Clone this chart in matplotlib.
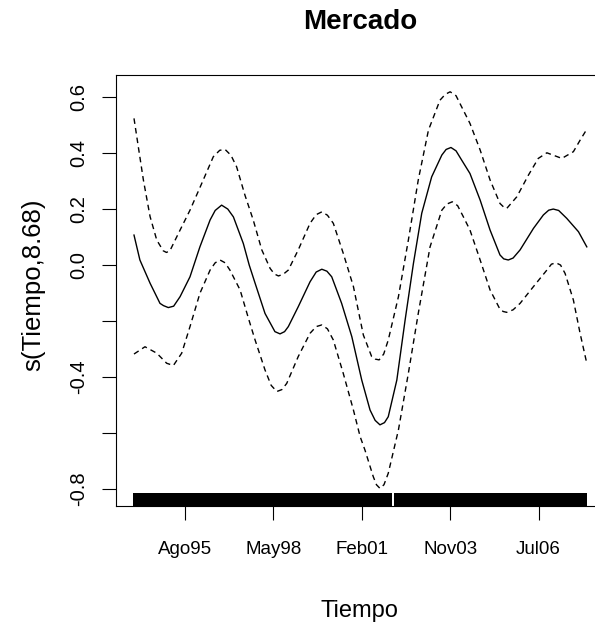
import matplotlib
matplotlib.use("Agg")
import matplotlib.pyplot as plt

plt.rcParams['font.family'] = ['Liberation Sans', 'DejaVu Sans']

# ---- data ----
title = "Mercado"
x_label = "Tiempo"
y_label = "s(Tiempo,8.68)"

x_tick_pos = [20, 53, 86, 119, 152]
x_tick_labels = ["Ago95", "May98", "Feb01", "Nov03", "Jul06"]
y_tick_pos = [-0.8, -0.6, -0.4, -0.2, 0.0, 0.2, 0.4, 0.6]
y_tick_labels = ["-0.8", "", "-0.4", "", "0.0", "0.2", "0.4", "0.6"]

fit_x = [1, 3.2, 7.0, 10.7, 12.0, 13.8, 15.8, 18.2, 21.9, 25.6, 29.4, 31.3, 33.7,
         36.0, 38.1, 41.8, 44.0, 46.2, 49.9, 53.6, 55.5, 57.2, 58.6, 62.3, 66.7,
         69.0, 71.1, 73.0, 74.8, 78.5, 82.3, 86.0, 89.1, 91.0, 92.8, 94.5, 95.9,
         99.1, 102.2, 105.3, 108.4, 112.1, 115.9, 117.5, 119.3, 121.2, 123.3,
         126.4, 130.2, 133.9, 137.6, 139.0, 140.7, 142.5, 145.1, 150.1, 153.8,
         155.8, 157.5, 159.5, 162.5, 166.9, 170]
fit_y = [0.107, 0.018, -0.065, -0.137, -0.145, -0.152, -0.147, -0.113, -0.042,
         0.065, 0.161, 0.195, 0.214, 0.200, 0.172, 0.077, 0.000, -0.065, -0.173,
         -0.238, -0.246, -0.238, -0.220, -0.149, -0.060, -0.025, -0.015, -0.022,
         -0.042, -0.137, -0.256, -0.411, -0.518, -0.555, -0.571, -0.563, -0.542,
         -0.411, -0.196, 0.006, 0.185, 0.315, 0.393, 0.413, 0.420, 0.408, 0.375,
         0.327, 0.232, 0.125, 0.036, 0.022, 0.018, 0.025, 0.054, 0.131, 0.179,
         0.196, 0.200, 0.195, 0.167, 0.119, 0.065]

upper_x = [1, 2.6, 4.5, 7.0, 9.5, 11.9, 13.1, 14.4, 18.2, 21.9, 26.3, 30.6, 33.0,
           35.0, 37.2, 39.3, 42.4, 45.5, 48.7, 51.8, 53.4, 54.9, 56.7, 58.6, 62.3,
           66.7, 69.0, 71.1, 73.2, 75.4, 79.1, 82.9, 86.6, 89.7, 91.0, 92.5, 94.2,
           95.9, 99.7, 103.4, 107.1, 110.9, 115.2, 117.2, 119.0, 121.2, 123.3,
           126.4, 130.2, 133.9, 137.6, 139.0, 140.1, 143.9, 148.2, 151.9, 155.1,
           160.7, 165.0, 167.5, 170]
upper_y = [0.524, 0.423, 0.304, 0.173, 0.089, 0.051, 0.045, 0.051, 0.125, 0.196,
           0.292, 0.387, 0.410, 0.413, 0.392, 0.351, 0.250, 0.161, 0.054, -0.012,
           -0.032, -0.039, -0.033, -0.018, 0.054, 0.149, 0.180, 0.190, 0.178, 0.149,
           0.042, -0.077, -0.250, -0.327, -0.336, -0.339, -0.318, -0.268, -0.113,
           0.089, 0.304, 0.482, 0.589, 0.610, 0.619, 0.605, 0.565, 0.506, 0.411,
           0.304, 0.220, 0.207, 0.202, 0.244, 0.321, 0.381, 0.401, 0.381, 0.405,
           0.446, 0.485]

lower_x = [1, 5.1, 9.5, 13.2, 15.7, 18.8, 21.9, 25.6, 29.4, 31.3, 33.1, 35.0, 36.8,
           40.6, 43.7, 46.2, 49.9, 52.2, 54.3, 56.2, 58.0, 62.3, 66.7, 69.0, 71.1,
           73.2, 75.4, 79.1, 82.9, 85.4, 87.2, 90.3, 91.5, 92.8, 94.3, 95.9, 99.7,
           103.4, 107.1, 111.5, 115.9, 117.8, 119.8, 121.8, 123.9, 126.4, 130.2,
           133.9, 137.6, 138.8, 140.1, 142.5, 145.1, 150.1, 155.1, 156.8, 158.5,
           160.2, 161.9, 165.0, 167.5, 170]
lower_y = [-0.318, -0.292, -0.315, -0.351, -0.359, -0.315, -0.220, -0.101, -0.018,
           0.008, 0.018, 0.008, -0.018, -0.089, -0.190, -0.268, -0.375, -0.430,
           -0.452, -0.445, -0.423, -0.327, -0.244, -0.220, -0.214, -0.228, -0.268,
           -0.387, -0.518, -0.613, -0.661, -0.756, -0.785, -0.798, -0.785, -0.744,
           -0.589, -0.387, -0.173, 0.065, 0.196, 0.218, 0.226, 0.212, 0.173, 0.125,
           0.018, -0.089, -0.158, -0.166, -0.169, -0.160, -0.137, -0.077, -0.018,
           0.003, 0.008, 0.000, -0.030, -0.125, -0.244, -0.351]

# observation coverage shown by the rug (start, end) in Tiempo units
rug_spans = [(0.8, 97.45), (97.95, 170.2)]

# ---- figure ----
W, H = 595, 626
fig = plt.figure(figsize=(W / 100, H / 100), dpi=100)
left, right, top, bottom = 116, 605, 75, 506
ax = fig.add_axes([left / W, (H - bottom) / H, (right - left) / W, (bottom - top) / H])

line_kw = dict(color='black', lw=1.0, solid_joinstyle='round')
ax.plot(fit_x, fit_y, **line_kw)
ax.plot(upper_x, upper_y, dashes=(4, 3), **line_kw)
ax.plot(lower_x, lower_y, dashes=(4, 3), **line_kw)

ax.broken_barh([(a, b - a) for a, b in rug_spans], (0, 0.03),
               transform=ax.get_xaxis_transform(), facecolor='black',
               edgecolor='none')

ax.set_xlim(-5.72, 176.8)
ax.set_ylim(-0.861, 0.679)

ax.set_xticks(x_tick_pos)
ax.set_xticklabels(x_tick_labels, fontsize=13.5)
ax.set_yticks(y_tick_pos)
ax.set_yticklabels(y_tick_labels, fontsize=14.5, rotation=90, va='center')
ax.tick_params(axis='x', length=10, width=0.8, pad=15, colors='black')
ax.tick_params(axis='y', length=10, width=0.8, pad=10, colors='black')

for s in ax.spines.values():
    s.set_linewidth(0.8)
    s.set_color('black')

fig.text(360 / W, 1 - 29 / H, title, ha='center', va='baseline',
         fontsize=20, fontweight='bold')
fig.text(359.5 / W, 1 - 616.7 / H, x_label, ha='center', va='baseline',
         fontsize=17)
fig.text(33 / W, 1 - 285 / H, y_label, ha='center', va='center',
         rotation=90, fontsize=18.5)

fig.savefig("out.png", dpi=100)
